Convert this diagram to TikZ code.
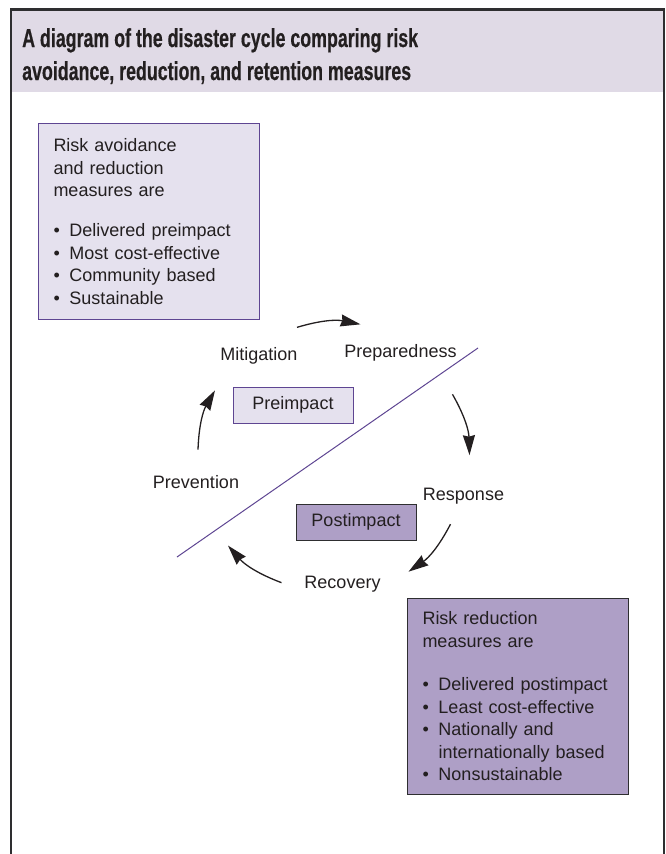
\documentclass[tikz,border=0pt]{standalone}
\usepackage{fontspec}
\setmainfont{Liberation Sans}
\usetikzlibrary{arrows.meta}

\definecolor{ink}{HTML}{231F20}
\definecolor{frameline}{HTML}{2E2E30}
\definecolor{headfill}{HTML}{E0DAE6}
\definecolor{palelilac}{HTML}{E5E1EE}
\definecolor{lilac}{HTML}{AE9FC6}
\definecolor{violetline}{HTML}{5E4592}

\newcommand{\bul}{\makebox[16pt][l]{\textbullet}}
\newcommand{\ind}{\hspace*{16pt}}

\begin{document}
\begin{tikzpicture}[
            x = 1pt, y = -1pt, % pixel grid, y runs down
            > = {Stealth[length=20pt, width=12pt, inset=1.5pt]}, % arrow head style
            font = \fontsize{18}{22.5}\selectfont,
            text = ink
        ]
        \tikzstyle{stage}=[
            inner sep = 0pt,
            anchor = base
        ]
        \tikzstyle{cycle}=[
            ->,
            draw = ink,
            line width = 1.3pt,
            bend left = 14
        ]
        \tikzstyle{phase}=[
            draw,
            line width = 1pt,
            minimum width = 120pt,
            minimum height = 36pt
        ]
        \tikzstyle{infobox}=[
            draw,
            line width = 1pt,
            anchor = north west,
            align = left,
            minimum height = 196pt
        ]
        \tikzstyle{heading}=[
            anchor = base west,
            inner sep = 0pt,
            font = \fontsize{26}{33}\selectfont\bfseries\addfontfeature{FakeBold=0.6}
        ]
        \useasboundingbox (0,0) rectangle (665,854);

        % frame and heading band
        \fill[headfill] (10.8,9.2) rectangle (663.8,92);
        \draw[frameline, line width = 2.6pt] (10.8,854) |- (663.8,9.2) -- (663.8,854);
        \node[heading] (title1) at (22,47)
            {\scalebox{0.685}[1]{A diagram of the disaster cycle comparing risk}};
        \node[heading] (title2) at (22,80)
            {\scalebox{0.685}[1]{avoidance, reduction, and retention measures}};

        % the two notes
        \node[infobox, draw = violetline, fill = palelilac, inner xsep = 15pt, text width = 191pt] (avoid) at (38,123)
            {Risk avoidance\\ and reduction\\ measures are\\[17.5pt]
             \bul Delivered preimpact\\ \bul Most cost-effective\\ \bul Community based\\ \bul Sustainable};
        \node[infobox, draw = frameline, fill = lilac, inner xsep = 15pt, text width = 191pt] (reduce) at (407,598)
            {Risk reduction\\ measures are\\[21pt]
             \bul Delivered postimpact\\ \bul Least cost-effective\\ \bul Nationally and\\ \ind internationally based\\ \bul Nonsustainable};

        % pre/post divider
        \draw[violetline, line width = 1pt] (177,557) -- (478,348);
        \node[phase, draw = violetline, fill = palelilac] (pre) at (293,405) {Preimpact};
        \node[phase, draw = frameline, fill = lilac] (post) at (356,522) {Postimpact};

        % stages of the cycle
        \node[stage] (mit) at (259,360) {Mitigation};
        \node[stage] (prep) at (400.5,357) {Preparedness};
        \node[stage] (resp) at (463.5,500.5) {Response};
        \node[stage] (rec) at (342.5,588) {Recovery};
        \node[stage] (prev) at (196,488) {Prevention};

        \draw[cycle] ([shift={(38,-28)}]mit.center) to ([shift={(-40,-28)}]prep.center);
        \draw[cycle] ([shift={(52,42)}]prep.center) to ([shift={(6,-41)}]resp.center);
        \draw[cycle] ([shift={(-13,28)}]resp.center) to ([shift={(66,-12)}]rec.center);
        \draw[cycle] ([shift={(-61,-1)}]rec.center) to ([shift={(32,64)}]prev.center);
        \draw[cycle] ([shift={(2,-32)}]prev.center) to ([shift={(-44,35)}]mit.center);
    \end{tikzpicture}
\end{document}
